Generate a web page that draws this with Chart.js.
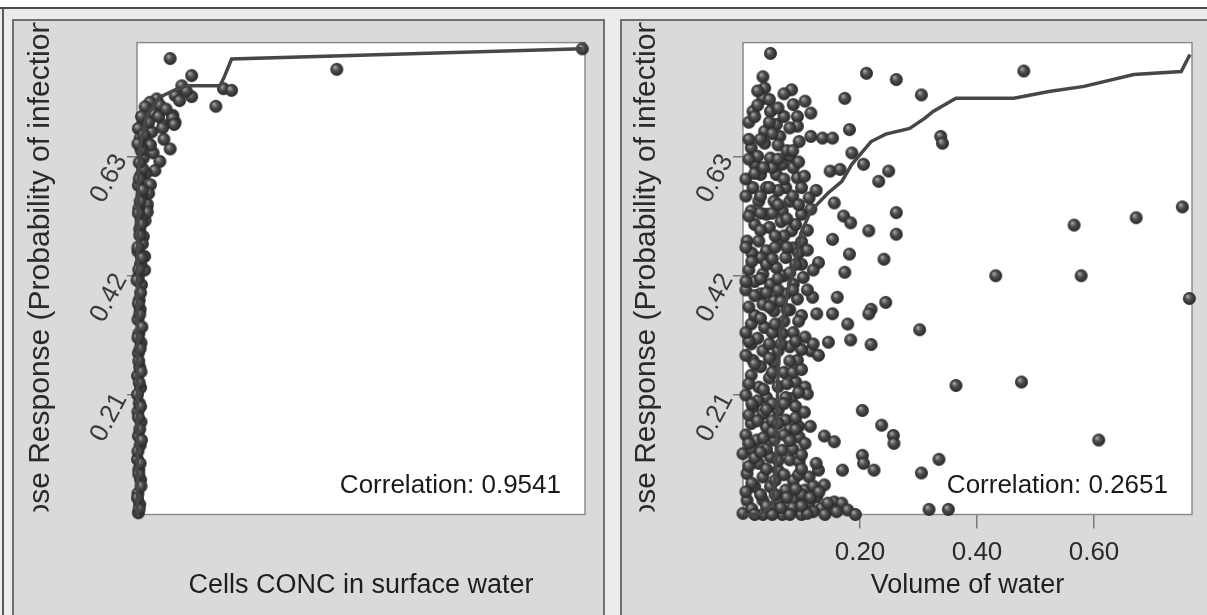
<!DOCTYPE html>
<html lang="en">
<head>
<meta charset="UTF-8">
<title>Dose response scatter</title>
<script src="https://cdn.jsdelivr.net/npm/chart.js"></script>
<style>
  html, body { margin: 0; padding: 0; background: #fff; }
  #page { position: relative; width: 1207px; height: 615px; overflow: hidden; background: #fff; }
  #band { position: absolute; left: 0; top: 7px; width: 1207px; height: 610px; background: #ececec; border-top: 2px solid #4d4d4d; }
  #edge { position: absolute; left: 2px; top: 9px; width: 2px; height: 606px; background: #5a5a5a; }
  .panel { position: absolute; top: 19px; height: 600px; background: #dadada; border: 2px solid #707070; border-bottom: none; box-sizing: border-box; }
  #panelL { left: 12px; width: 593px; }
  #panelR { left: 620px; width: 600px; }
  .panel canvas { position: absolute; left: 0; top: 0; }
</style>
</head>
<body>
<div id="page">
  <div id="band"></div>
  <div id="edge"></div>
  <div class="panel" id="panelL"><canvas id="chartL" width="589" height="594"></canvas></div>
  <div class="panel" id="panelR"><canvas id="chartR" width="585" height="594"></canvas></div>
</div>

<script>
// ---- data ----
// left panel: Cells CONC in surface water (no scale printed, 0-100 arbitrary)
var concX = [7.4, 12.2, 10.0, 12.2, 8.5, 19.3, 21.1, 17.6, 4.4, 2.9,
  5.1, 1.8, 3.6, 8.0, 5.9, 8.5, 1.4, 0.3, 3.3, 2.2,
  0.7, 7.4, 3.6, 5.1, 4.0, 1.4, 2.2, 1.8, 2.3, 2.3,
  1.4, 1.7, 1.7, 44.6, 99.4, 7.9, 8.3, 5.7,
  1.0, 2.6, 4.8, 6.5, 3.0, 6.0, 9.5, 11.0, 2.0, 3.0, 2.6, 1.0,
  // pile-up at zero concentration
  0.3, 0.6, 0.2, 0.8, 0.4, 0.1, 0.7, 0.3, 0.9, 0.2,
  0.5, 0.8, 0.1, 0.6, 0.3, 0.9, 0.4, 0.2, 0.7, 0.5,
  1.0, 0.3, 0.8, 0.2, 1.2, 0.6, 0.9, 0.4, 1.1, 0.3,
  0.8, 1.3, 0.5, 0.9, 0.2, 1.5,
  0.5, 0.1, 0.9, 0.4, 0.7, 0.2, 1.0, 0.6, 0.3, 0.8,
  0.1, 0.5, 0.9, 0.4, 0.7, 0.2, 1.1, 0.6, 0.3, 0.8,
  0.0, 0.4, 1.0, 0.2, 0.6, 0.9, 0.3, 0.7, 1.2, 0.5];
var concY = [0.802, 0.772, 0.754, 0.735, 0.737, 0.749, 0.746, 0.718, 0.731, 0.725,
  0.720, 0.717, 0.705, 0.702, 0.685, 0.690, 0.690, 0.679, 0.673, 0.656,
  0.662, 0.643, 0.636, 0.621, 0.605, 0.627, 0.541, 0.517, 0.546, 0.532,
  0.489, 0.454, 0.430, 0.783, 0.819, 0.698, 0.686, 0.680,
  0.700, 0.690, 0.700, 0.713, 0.650, 0.660, 0.728, 0.745, 0.600, 0.580, 0.565, 0.645,
  0.003, 0.018, 0.037, 0.061, 0.079, 0.097, 0.122, 0.138, 0.163, 0.181,
  0.196, 0.223, 0.244, 0.259, 0.284, 0.302, 0.318, 0.343, 0.361, 0.377,
  0.404, 0.418, 0.441, 0.463, 0.476, 0.502, 0.519, 0.538, 0.562, 0.579,
  0.596, 0.608, 0.619, 0.641, 0.652, 0.668,
  0.010, 0.029, 0.050, 0.071, 0.090, 0.111, 0.131, 0.150, 0.171, 0.190,
  0.211, 0.232, 0.251, 0.270, 0.292, 0.311, 0.330, 0.352, 0.371, 0.390,
  0.412, 0.431, 0.452, 0.470, 0.491, 0.511, 0.530, 0.551, 0.571, 0.590];
var concCurveX = [0, 0.1, 0.3, 0.7, 2.2, 5.1, 8.5, 11.2, 18.5, 19.4, 21.1, 99.4];
var concCurveY = [0, 0.372, 0.598, 0.650, 0.702, 0.734, 0.747, 0.754, 0.754, 0.768, 0.801, 0.819];

// right panel: Volume of water
var volumeX = [0.047, 0.211, 0.262, 0.480, 0.174, 0.305, 0.083, 0.034, 0.037, 0.034,
  0.017, 0.047, 0.086, 0.106, 0.116, 0.093, 0.093, 0.057, 0.037, 0.063,
  0.037, 0.182, 0.096, 0.116, 0.136, 0.153, 0.338, 0.341, 0.014, 0.047,
  0.080, 0.186, 0.206, 0.249, 0.232, 0.149, 0.166, 0.020, 0.030, 0.067,
  0.086, 0.093, 0.057, 0.017, 0.040, 0.073, 0.100, 0.113, 0.027, 0.053,
  0.080, 0.014, 0.040, 0.067, 0.100, 0.116, 0.156, 0.172, 0.184, 0.262,
  0.215, 0.262, 0.153, 0.007, 0.027, 0.063, 0.083, 0.086, 0.040, 0.073,
  0.030, 0.100, 0.182, 0.129, 0.241, 0.174, 0.432, 0.578, 0.566, 0.672,
  0.751, 0.763, 0.034, 0.057, 0.047, 0.086, 0.103, 0.030, 0.053, 0.073,
  0.093, 0.119, 0.161, 0.244, 0.219, 0.215, 0.179, 0.302, 0.184, 0.219,
  0.146, 0.116, 0.129, 0.093, 0.153, 0.126, 0.053, 0.034, 0.014, 0.037,
  0.067, 0.086, 0.106, 0.014, 0.034, 0.060, 0.017, 0.053, 0.364, 0.476,
  0.204, 0.237, 0.257, 0.258, 0.608, 0.335, 0.305, 0.204, 0.206, 0.224,
  0.170, 0.139, 0.156, 0.096, 0.106, 0.090, 0.106, 0.110, 0.083, 0.014,
  0.027, 0.040, 0.073, 0.017, 0.034, 0.060, 0.073, 0.014, 0.040, 0.000,
  0.024, 0.053, 0.067, 0.027, 0.047, 0.080, 0.096, 0.129, 0.113, 0.007,
  0.034, 0.060, 0.086, 0.139, 0.020, 0.047, 0.073, 0.106, 0.126, 0.007,
  0.034, 0.060, 0.086, 0.113, 0.134, 0.156, 0.169, 0.179, 0.192, 0.151,
  0.318, 0.351, 0.000, 0.034, 0.067, 0.100,
  // dense cluster near zero volume
  0.010, 0.025, 0.045, 0.070, 0.060, 0.075, 0.010, 0.025, 0.050, 0.095,
  0.030, 0.060, 0.085, 0.005, 0.020, 0.045, 0.065, 0.090, 0.110, 0.050,
  0.015, 0.055, 0.070, 0.100, 0.010, 0.020, 0.070, 0.090, 0.040, 0.005,
  0.060, 0.040, 0.080, 0.100, 0.020, 0.070, 0.050, 0.025, 0.045, 0.080,
  0.100, 0.005, 0.030, 0.070, 0.085, 0.045, 0.060, 0.005, 0.025, 0.050,
  0.090, 0.010, 0.050, 0.080, 0.095, 0.005, 0.035, 0.070, 0.015, 0.040,
  0.085, 0.100, 0.060, 0.015, 0.055, 0.095, 0.120, 0.030, 0.075, 0.100,
  0.015, 0.050, 0.085, 0.120, 0.020, 0.050, 0.080, 0.110, 0.140, 0.090,
  0.010, 0.040, 0.070, 0.100, 0.125, 0.020, 0.055, 0.090, 0.115, 0.145,
  0.160, 0.005, 0.040, 0.065, 0.100, 0.130,
  0.010, 0.030, 0.050, 0.060, 0.080, 0.090, 0.025, 0.040, 0.070, 0.105, 0.015, 0.115,
  0.010, 0.035, 0.050, 0.075, 0.095, 0.020, 0.045, 0.080, 0.100, 0.010, 0.065, 0.090, 0.120,
  0.005, 0.030, 0.055, 0.075, 0.095, 0.010, 0.045, 0.020, 0.065, 0.085, 0.110, 0.005,
  0.030, 0.060, 0.080, 0.015, 0.050, 0.075, 0.095, 0.005, 0.030, 0.055, 0.110, 0.120,
  0.010, 0.030, 0.060, 0.075, 0.095, 0.005, 0.045, 0.070, 0.105, 0.020, 0.125,
  0.010, 0.035, 0.060, 0.085, 0.030, 0.050, 0.080, 0.020, 0.060, 0.045, 0.025, 0.070];
var volumeY = [0.811, 0.776, 0.765, 0.780, 0.732, 0.738, 0.747, 0.770, 0.750, 0.732,
  0.709, 0.709, 0.721, 0.727, 0.706, 0.700, 0.683, 0.686, 0.674, 0.665,
  0.653, 0.677, 0.656, 0.665, 0.662, 0.662, 0.665, 0.653, 0.645, 0.627,
  0.630, 0.636, 0.616, 0.604, 0.586, 0.604, 0.607, 0.616, 0.598, 0.616,
  0.610, 0.592, 0.598, 0.575, 0.575, 0.575, 0.575, 0.557, 0.551, 0.551,
  0.551, 0.534, 0.528, 0.534, 0.528, 0.537, 0.548, 0.525, 0.513, 0.531,
  0.499, 0.493, 0.484, 0.481, 0.481, 0.481, 0.499, 0.469, 0.464, 0.452,
  0.452, 0.440, 0.458, 0.443, 0.449, 0.426, 0.420, 0.420, 0.509, 0.522,
  0.541, 0.380, 0.423, 0.434, 0.405, 0.405, 0.417, 0.388, 0.376, 0.388,
  0.379, 0.382, 0.382, 0.373, 0.361, 0.353, 0.335, 0.325, 0.307, 0.299,
  0.303, 0.288, 0.280, 0.271, 0.353, 0.353, 0.358, 0.370, 0.335, 0.329,
  0.318, 0.320, 0.312, 0.300, 0.288, 0.288, 0.271, 0.268, 0.227, 0.233,
  0.183, 0.157, 0.139, 0.125, 0.131, 0.097, 0.073, 0.104, 0.090, 0.078,
  0.078, 0.138, 0.128, 0.136, 0.125, 0.233, 0.224, 0.212, 0.204, 0.245,
  0.224, 0.206, 0.206, 0.189, 0.177, 0.183, 0.166, 0.160, 0.154, 0.107,
  0.131, 0.131, 0.113, 0.090, 0.101, 0.096, 0.093, 0.078, 0.066, 0.072,
  0.066, 0.078, 0.060, 0.052, 0.049, 0.049, 0.043, 0.043, 0.031, 0.025,
  0.025, 0.025, 0.025, 0.020, 0.011, 0.022, 0.020, 0.008, 0.000, 0.011,
  0.009, 0.009, 0.002, 0.000, 0.000, 0.000,
  0.690, 0.720, 0.690, 0.700, 0.650, 0.640, 0.660, 0.630, 0.610, 0.620,
  0.560, 0.570, 0.560, 0.560, 0.510, 0.505, 0.515, 0.510, 0.500, 0.530,
  0.460, 0.470, 0.490, 0.480, 0.430, 0.410, 0.420, 0.440, 0.440, 0.395,
  0.395, 0.390, 0.360, 0.350, 0.350, 0.340, 0.320, 0.310, 0.300, 0.295,
  0.290, 0.280, 0.260, 0.250, 0.250, 0.240, 0.225, 0.210, 0.200, 0.195,
  0.190, 0.175, 0.165, 0.150, 0.155, 0.140, 0.135, 0.140, 0.115, 0.115,
  0.115, 0.105, 0.095, 0.055, 0.060, 0.070, 0.050, 0.035, 0.030, 0.035,
  0.010, 0.010, 0.012, 0.005, 0.000, 0.000, 0.000, 0.002, 0.000, 0.150,
  0.085, 0.080, 0.070, 0.080, 0.090, 0.100, 0.035, 0.045, 0.030, 0.020,
  0.005, 0.040, 0.015, 0.012, 0.015, 0.040,
  0.125, 0.110, 0.145, 0.160, 0.130, 0.170, 0.165, 0.185, 0.195, 0.180, 0.195, 0.155,
  0.230, 0.220, 0.250, 0.230, 0.215, 0.265, 0.275, 0.270, 0.255, 0.305, 0.300, 0.305, 0.300,
  0.320, 0.345, 0.335, 0.360, 0.340, 0.365, 0.365, 0.385, 0.375, 0.395, 0.395, 0.410,
  0.415, 0.415, 0.425, 0.445, 0.450, 0.470, 0.460, 0.470, 0.500, 0.490, 0.465, 0.430,
  0.525, 0.530, 0.545, 0.520, 0.545, 0.590, 0.575, 0.590, 0.595, 0.600, 0.570,
  0.625, 0.610, 0.625, 0.640, 0.660, 0.670, 0.680, 0.700, 0.715, 0.730, 0.745, 0.740];
var volCurveX = [0, 0.029, 0.050, 0.056, 0.058, 0.060, 0.065, 0.075, 0.089, 0.099,
  0.116, 0.145, 0.169, 0.186, 0.195, 0.219, 0.244, 0.285, 0.311, 0.325,
  0.364, 0.463, 0.523, 0.583, 0.668, 0.749, 0.764];
var volCurveY = [0, 0.001, 0.015, 0.078, 0.166, 0.253, 0.323, 0.385, 0.443, 0.495,
  0.534, 0.565, 0.586, 0.616, 0.627, 0.656, 0.669, 0.679, 0.697, 0.709,
  0.732, 0.732, 0.744, 0.753, 0.774, 0.779, 0.809];

var probTicks = [0.21, 0.42, 0.63];
var probTickLabels = ['0.21', '0.42', '0.63'];
var volTicks = [0.20, 0.40, 0.60];
var volTickLabels = ['0.20', '0.40', '0.60'];

var yTitle = 'Dose Response (Probability of infection)';
var xTitles = ['Cells CONC in surface water', 'Volume of water'];
var corrLabels = ['Correlation: 0.9541', 'Correlation: 0.2651'];

var FONT = '"Liberation Sans", Arial, sans-serif';

// little shaded ball used as the point marker
function makeBall(r) {
  var c = document.createElement('canvas');
  var d = Math.ceil(r * 2 + 2);
  c.width = d; c.height = d;
  var g = c.getContext('2d');
  var grad = g.createRadialGradient(d / 2 - r * 0.3, d / 2 - r * 0.35, r * 0.1, d / 2, d / 2, r);
  grad.addColorStop(0, '#a0a0a0');
  grad.addColorStop(0.4, '#505050');
  grad.addColorStop(1, '#262626');
  g.fillStyle = grad;
  g.beginPath();
  g.arc(d / 2, d / 2, r, 0, Math.PI * 2);
  g.fill();
  return c;
}
var ball = makeBall(6.5);

function toPoints(xs, ys) {
  return xs.map(function (x, i) { return { x: x, y: ys[i] }; });
}

function panelPlugin(corrText) {
  return {
    id: 'panelDecor',
    beforeDraw: function (chart) {
      var ctx = chart.ctx, a = chart.chartArea;
      ctx.save();
      ctx.fillStyle = '#ffffff';
      ctx.fillRect(a.left, a.top, a.right - a.left, a.bottom - a.top);
      ctx.restore();
    },
    beforeDatasetsDraw: function (chart) {
      var ctx = chart.ctx, a = chart.chartArea;
      ctx.save();
      ctx.strokeStyle = '#8c8c8c';
      ctx.lineWidth = 1.5;
      ctx.strokeRect(a.left, a.top, a.right - a.left, a.bottom - a.top);
      ctx.restore();
    },
    afterDraw: function (chart) {
      var ctx = chart.ctx, a = chart.chartArea;
      // y title is cut off at both ends in the original
      ctx.save();
      ctx.beginPath();
      ctx.rect(0, a.top - 20, a.left - 50, a.bottom - a.top + 17);
      ctx.clip();
      ctx.translate(a.left - 96, (a.top + a.bottom) / 2 - 4);
      ctx.rotate(-Math.PI / 2);
      ctx.font = '30px ' + FONT;
      ctx.fillStyle = '#2a2a2a';
      ctx.textAlign = 'center';
      ctx.textBaseline = 'middle';
      ctx.fillText(yTitle, 0, 0);
      ctx.restore();

      ctx.save();
      ctx.font = '26px ' + FONT;
      ctx.fillStyle = '#1a1a1a';
      ctx.textAlign = 'right';
      ctx.textBaseline = 'alphabetic';
      ctx.fillText(corrText, a.right - 24, a.bottom - 22);
      ctx.restore();
    }
  };
}

function yScale() {
  return {
    type: 'linear', min: 0, max: 0.83,
    afterBuildTicks: function (s) { s.ticks = probTicks.map(function (v) { return { value: v }; }); },
    afterFit: function (s) { s.width = 100; },
    ticks: {
      minRotation: 62, maxRotation: 62, padding: 6, color: '#3a3a3a',
      font: { family: FONT, size: 26 },
      callback: function (v) { return probTickLabels[probTicks.indexOf(v)]; }
    },
    grid: { drawOnChartArea: false, tickLength: 10, color: '#7a7a7a', lineWidth: 1.5 },
    border: { display: false }
  };
}

function xTitle(text) {
  return { display: true, text: text, color: '#1e1e1e', font: { family: FONT, size: 27 }, padding: { top: 0, bottom: 3 } };
}

// left panel
new Chart(document.getElementById('chartL'), {
  type: 'scatter',
  data: {
    datasets: [
      { type: 'line', data: toPoints(concCurveX, concCurveY), borderColor: '#474747', borderWidth: 3.5,
        pointRadius: 0, fill: false, tension: 0, clip: false },
      { data: toPoints(concX, concY), pointStyle: ball, pointRadius: 6, clip: false }
    ]
  },
  options: {
    responsive: false, animation: false,
    layout: { padding: { left: 23, right: 18, top: 20, bottom: 10.5 } },
    plugins: { legend: { display: false }, tooltip: { enabled: false } },
    scales: {
      x: {
        type: 'linear', min: 0, max: 100,
        afterFit: function (s) { s.height = 90; },
        ticks: { display: false },
        grid: { display: false },
        border: { display: false },
        title: xTitle(xTitles[0])
      },
      y: yScale()
    }
  },
  plugins: [panelPlugin(corrLabels[0])]
});

// right panel
new Chart(document.getElementById('chartR'), {
  type: 'scatter',
  data: {
    datasets: [
      { type: 'line', data: toPoints(volCurveX, volCurveY), borderColor: '#474747', borderWidth: 3.5,
        pointRadius: 0, fill: false, tension: 0, clip: false },
      { data: toPoints(volumeX, volumeY), pointStyle: ball, pointRadius: 6, clip: false }
    ]
  },
  options: {
    responsive: false, animation: false,
    layout: { padding: { left: 21, right: 15, top: 20, bottom: 10.5 } },
    plugins: { legend: { display: false }, tooltip: { enabled: false } },
    scales: {
      x: {
        type: 'linear', min: 0, max: 0.7675,
        afterBuildTicks: function (s) { s.ticks = volTicks.map(function (v) { return { value: v }; }); },
        afterFit: function (s) { s.height = 90; },
        ticks: {
          padding: 9, color: '#2a2a2a', maxRotation: 0,
          font: { family: FONT, size: 26 },
          callback: function (v) { return volTickLabels[volTicks.indexOf(v)]; }
        },
        grid: { drawOnChartArea: false, tickLength: 14, color: '#7a7a7a', lineWidth: 1.5 },
        border: { display: false },
        title: xTitle(xTitles[1])
      },
      y: yScale()
    }
  },
  plugins: [panelPlugin(corrLabels[1])]
});
</script>
</body>
</html>
